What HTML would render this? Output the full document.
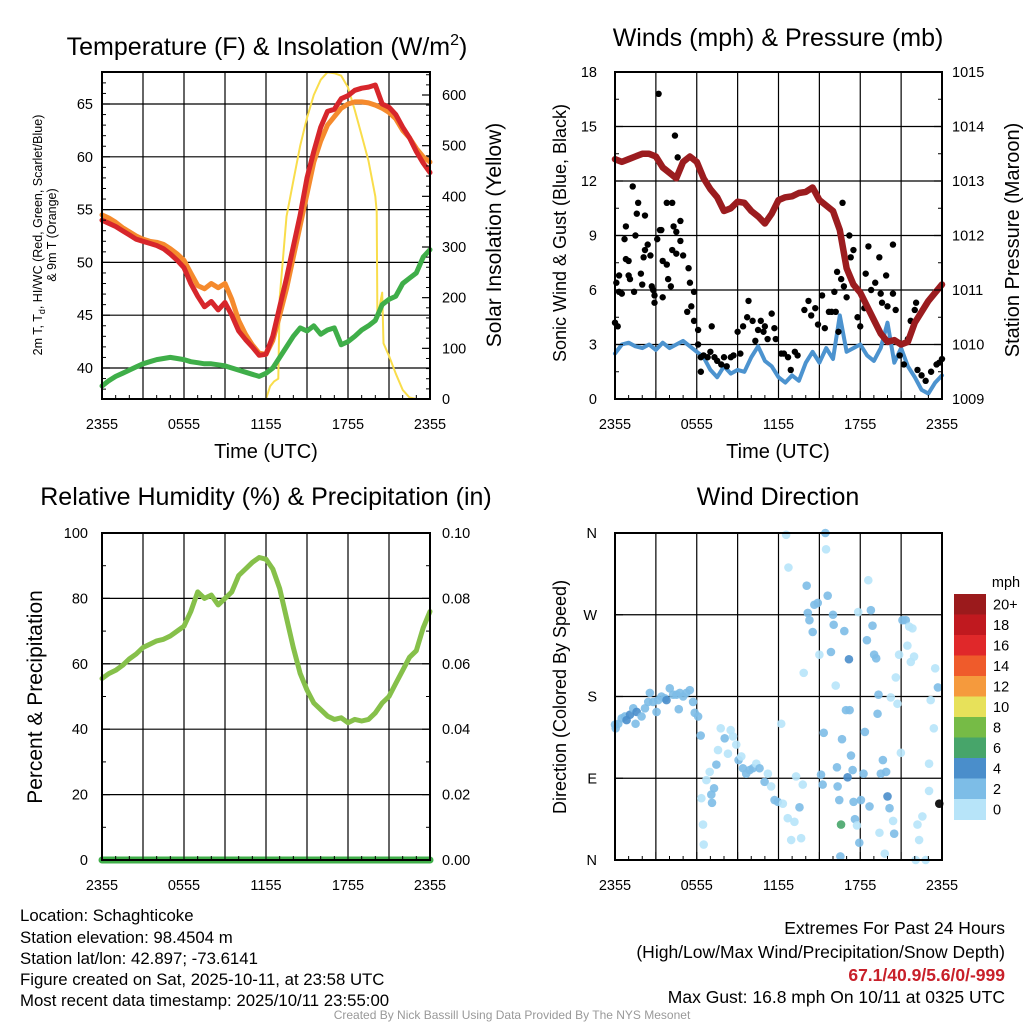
<!DOCTYPE html>
<html><head><meta charset="utf-8"><style>
body{margin:0;background:#fff}
svg{display:block}
text{font-family:"Liberation Sans",sans-serif;fill:#000}
</style></head><body>
<svg id="s" width="1024" height="1024" viewBox="0 0 1024 1024" xmlns="http://www.w3.org/2000/svg">
<g id="g1"></g>
<g id="g2"></g>
<g id="g3"></g>
<g id="g4"></g>
<text x="267" y="55" font-size="25" text-anchor="middle">Temperature (F) &amp; Insolation (W/m<tspan dy="-10" font-size="16">2</tspan><tspan dy="10">)</tspan></text>
<text x="778" y="46" font-size="25" text-anchor="middle">Winds (mph) &amp; Pressure (mb)</text>
<text x="266" y="505" font-size="25" text-anchor="middle">Relative Humidity (%) &amp; Precipitation (in)</text>
<text x="778" y="505" font-size="25" text-anchor="middle">Wind Direction</text>
<g font-size="20" text-anchor="middle">
<text x="266" y="458">Time (UTC)</text>
<text x="778" y="458">Time (UTC)</text>
</g>
<text transform="translate(42,235) rotate(-90)" font-size="12.5" text-anchor="middle">2m T, T<tspan font-size="9" dy="3">d</tspan><tspan dy="-3">, HI/WC (Red, Green, Scarlet/Blue)</tspan></text>
<text transform="translate(56,235) rotate(-90)" font-size="12.5" text-anchor="middle">&amp; 9m T (Orange)</text>
<text transform="translate(501,235) rotate(-90)" font-size="21" text-anchor="middle">Solar Insolation (Yellow)</text>
<text transform="translate(566,233) rotate(-90)" font-size="18" text-anchor="middle">Sonic Wind &amp; Gust (Blue, Black)</text>
<text transform="translate(1019,240) rotate(-90)" font-size="20" text-anchor="middle">Station Pressure (Maroon)</text>
<text transform="translate(42,697) rotate(-90)" font-size="21" text-anchor="middle">Percent &amp; Precipitation</text>
<text transform="translate(566,697) rotate(-90)" font-size="18" text-anchor="middle">Direction (Colored By Speed)</text>
<g font-size="16.8">
<text x="20" y="921">Location: Schaghticoke</text>
<text x="20" y="943">Station elevation: 98.4504 m</text>
<text x="20" y="964">Station lat/lon: 42.897; -73.6141</text>
<text x="20" y="985">Figure created on Sat, 2025-10-11, at 23:58 UTC</text>
<text x="20" y="1006">Most recent data timestamp: 2025/10/11 23:55:00</text>
</g>
<g font-size="17.5" text-anchor="end">
<text x="1005" y="934">Extremes For Past 24 Hours</text>
<text x="1005" y="958">(High/Low/Max Wind/Precipitation/Snow Depth)</text>
<text x="1005" y="981" style="fill:#c8202a;font-weight:bold">67.1/40.9/5.6/0/-999</text>
<text x="1005" y="1003">Max Gust: 16.8 mph On 10/11 at 0325 UTC</text>
</g>
<text x="512" y="1019" font-size="12" text-anchor="middle" style="fill:#999">Created By Nick Bassill Using Data Provided By The NYS Mesonet</text>
</svg>
<script>
// ---- data ----
const timeLabels=["2355","0555","1155","1755","2355"];
const tempRed=[54.0,53.7,53.4,53.0,52.6,52.2,52.0,51.8,51.6,51.3,50.8,50.2,49.5,48.0,46.8,45.8,46.3,45.5,46.2,45.0,43.5,42.7,42.0,41.2,41.3,43.0,45.8,48.5,51.5,54.5,58.0,60.5,62.8,64.3,64.5,65.5,65.8,66.3,66.5,66.6,66.8,65.0,64.7,64.0,62.8,61.8,60.5,59.4,58.5];
const temp9m=[54.5,54.2,53.8,53.3,52.9,52.5,52.2,52.0,51.9,51.7,51.3,50.8,50.2,49.0,47.8,47.5,48.0,47.6,48.0,46.5,44.5,43.2,42.2,41.4,41.3,42.6,45.0,47.5,50.5,53.5,56.5,59.5,61.5,63.0,63.8,64.6,65.0,65.2,65.2,65.1,64.9,64.6,64.2,63.6,62.5,61.8,60.8,60.0,59.5];
const dewGreen=[38.3,38.8,39.2,39.5,39.8,40.1,40.4,40.6,40.8,40.9,41.0,40.9,40.8,40.6,40.5,40.4,40.4,40.3,40.2,40.0,39.8,39.6,39.4,39.2,39.5,40.0,41.0,42.0,43.0,43.8,43.5,44.0,43.2,43.6,43.8,42.2,42.5,43.0,43.6,44.0,44.5,46.0,46.5,46.8,48.0,48.5,49.0,50.5,51.2];
const solarHours=[0,12,12.3,12.6,12.9,13,13.5,14,14.5,15,15.5,16,16.5,17,17.5,18,18.5,19,19.5,20,20.1,20.15,20.5,20.6,21,21.5,22,22.5,23,24];
const solarVals=[0,0,25,35,40,200,360,430,500,555,600,630,645,643,638,615,570,520,470,400,370,160,210,110,85,50,18,3,0,0];
const windSpeed=[2.5,3.0,3.1,2.9,2.8,3.0,2.7,3.1,2.8,3.0,3.2,2.9,2.6,2.3,1.6,1.2,1.8,1.4,1.6,1.5,2.3,2.9,2.1,1.8,1.2,0.9,1.3,1.0,2.0,2.6,2.0,2.8,2.2,4.6,2.6,2.8,3.0,2.4,2.1,2.8,4.2,2.0,2.8,1.8,1.2,0.5,0.3,0.9,1.3];
const pressure=[1013.4,1013.35,1013.4,1013.45,1013.5,1013.5,1013.45,1013.25,1013.15,1013.05,1013.35,1013.45,1013.35,1013.05,1012.85,1012.7,1012.45,1012.5,1012.62,1012.6,1012.45,1012.35,1012.22,1012.4,1012.65,1012.7,1012.72,1012.78,1012.8,1012.88,1012.65,1012.55,1012.45,1012.1,1011.4,1011.1,1010.95,1010.7,1010.45,1010.2,1010.05,1010.08,1010.0,1010.05,1010.4,1010.6,1010.8,1010.95,1011.1];
const gustHours=[0,0.2,0.1,0.3,0.5,0.3,0.7,0.8,0.8,1.0,1.0,1.1,1.3,1.4,1.5,1.6,1.7,1.9,2.0,2.1,2.2,2.2,2.4,2.6,2.7,2.8,2.9,2.9,3.1,3.2,3.3,3.4,3.5,3.5,3.8,3.8,3.9,4.1,4.2,4.2,4.3,4.4,4.5,4.5,4.6,4.8,4.8,5.0,5.4,5.5,5.6,5.8,5.3,5.8,6.1,6.1,6.3,6.3,6.5,6.8,7.0,7.1,7.3,7.5,7.8,8.0,8.2,8.5,8.7,9.0,9.2,9.4,9.7,9.8,10.1,10.3,10.5,10.7,10.9,11.0,11.2,11.5,11.7,11.8,12.2,12.4,12.7,12.9,13.2,13.4,13.9,14.2,14.4,14.7,14.9,15.2,15.4,15.7,15.9,16.1,16.2,16.3,16.4,16.6,16.7,16.8,17.0,17.2,17.3,17.5,17.8,18.0,18.3,18.4,18.6,18.8,19.1,19.4,19.5,19.6,19.9,20.0,20.4,20.4,20.6,20.9,21.2,21.5,21.7,22.0,22.1,22.2,22.5,22.8,23.2,23.6,23.8,24.0];
const gustVals=[4.2,4.0,6.4,5.9,5.8,6.8,8.8,9.5,7.7,7.6,6.8,6.6,11.7,5.9,9.0,10.2,10.8,6.9,6.3,7.8,10.1,8.2,8.5,7.9,6.2,6.0,5.7,5.3,8.8,16.8,9.3,9.3,5.6,7.6,10.8,7.4,6.6,6.2,8.2,10.8,9.5,14.5,9.2,8.0,13.3,9.8,8.7,7.9,7.2,6.4,5.1,5.9,4.8,4.3,3.8,3.0,2.3,1.5,2.4,2.3,2.6,4.0,2.3,2.1,1.9,2.3,1.8,2.3,2.4,3.7,2.5,4.0,4.5,5.4,4.3,3.2,3.8,4.3,3.7,4.0,3.3,4.7,3.9,3.3,2.5,2.5,2.3,1.6,2.6,2.4,4.9,5.4,4.6,5.0,4.1,5.7,3.9,4.8,4.8,5.9,4.8,7.0,3.7,6.6,10.8,6.2,5.6,9.0,7.8,8.2,4.5,4.0,5.0,6.9,8.4,6.0,6.4,7.8,5.8,5.3,6.8,5.1,8.5,5.8,4.9,2.4,1.9,3.3,4.3,4.9,5.3,1.6,1.3,1.0,1.5,1.9,2.0,2.2];
const rh=[55.5,57,58,59.5,61.5,63,65,66,67,67.5,68.5,70,71.5,76,82,80,81,78,80,82,87,89,91,92.5,92,89,83,74,65,57,52,48,46,44,43,43.5,42,43,42.5,43,45,48,50,54,58,62,64,71,76];
const precip=[0,0,0,0,0,0,0,0,0,0,0,0,0,0,0,0,0,0,0,0,0,0,0,0,0,0,0,0,0,0,0,0,0,0,0,0,0,0,0,0,0,0,0,0,0,0,0,0,0];
const dirHours=[0,0.05,0.24,0.49,0.73,0.85,1.10,1.34,1.51,1.59,1.95,2.20,2.44,2.56,2.80,3.05,3.17,3.41,3.66,3.78,4.02,4.27,4.51,4.76,4.68,5.00,5.24,5.49,5.73,5.85,6.10,6.29,6.34,6.46,6.51,6.71,6.95,7.07,7.12,7.27,7.44,7.56,7.76,8.05,8.29,8.49,8.66,8.90,9.07,9.27,9.39,9.63,9.88,10.12,10.37,10.61,10.98,11.22,11.46,11.71,11.95,12.20,12.32,12.56,12.73,12.68,12.93,13.17,13.29,13.54,13.66,13.78,13.85,14.07,14.15,14.27,14.51,14.63,14.88,15.00,15.12,15.24,15.32,15.44,15.49,15.61,15.85,16.00,16.05,16.20,16.29,16.34,16.46,16.54,16.59,16.66,16.83,16.95,17.07,17.17,17.22,17.32,17.44,17.51,17.61,17.76,17.85,17.93,18.05,18.24,18.34,18.49,18.59,18.68,18.78,18.90,19.02,19.17,19.27,19.34,19.41,19.51,19.66,19.80,19.90,20.00,20.15,20.24,20.41,20.49,20.61,20.73,20.85,20.98,21.10,21.34,21.46,21.59,21.71,21.83,21.95,22.07,22.20,22.32,22.56,22.80,23.05,23.05,23.17,23.4,23.5,23.7,23.8];
const dirDeg=[149,145,150,156,158,154,160,167,150,163,158,167,174,184,174,163,176,180,178,176,189,182,182,184,166,180,184,187,174,162,158,137,68,39,17,88,97,72,63,79,105,121,145,134,117,143,136,127,110,114,101,95,99,101,106,101,86,95,81,66,64,150,62,358,322,46,22,42,92,58,24,83,206,302,272,264,251,281,283,226,94,83,140,360,342,291,229,270,259,192,102,81,66,4,39,133,252,165,91,221,165,115,99,64,45,38,273,19,66,95,141,242,308,59,275,258,226,222,161,182,30,95,110,7,97,70,57,179,43,29,201,172,226,118,264,264,236,257,218,255,224,0,39,22,48,0,106,76,176,145,211,190,62];
const dirSpeed=[2,2,2,2,3,4,4,2,2,4,2,2,2,2,2,2,2,2,3,4,2,2,2,3,2,2,2,2,2,2,2,2,0,0,0,0,0,2,2,2,2,0,0,2,0,0,0,0,2,0,2,2,2,2,0,2,2,0,0,2,2,0,0,0,0,0,0,0,0,2,0,0,0,2,2,3,2,2,2,0,2,2,2,2,0,2,2,2,3,0,2,2,2,2,6,2,2,2,4,4,2,2,2,2,2,0,0,2,2,2,2,2,0,2,2,2,2,2,2,2,0,2,2,0,2,4,2,0,0,2,0,0,0,0,2,2,0,0,0,0,0,0,0,0,0,0,0,0,0,0,0,2];
const cbLabels=["20+","18","16","14","12","10","8","6","4","2","0"];
const cbColors=["#9b1a1c","#c0191f","#e0282a","#ef5b2b","#f59a3d","#e7e15a","#76bb46","#47a56a","#4a8ecb","#7dbde7","#b7e4f9"];

const NS="http://www.w3.org/2000/svg";
function mk(parent,tag,attrs){const e=document.createElementNS(NS,tag);for(const k in attrs)e.setAttribute(k,attrs[k]);parent.appendChild(e);return e;}
function lin(d0,d1,r0,r1){return v=>r0+(v-d0)/(d1-d0)*(r1-r0);}
function halfHours(n){const a=[];for(let i=0;i<n;i++)a.push(i*0.5);return a;}
function poly(g,xs,ys,X,Y,color,w,name){
  const pts=xs.map((h,i)=>X(h).toFixed(1)+","+Y(ys[i]).toFixed(1)).join(" ");
  const p=mk(g,"polyline",{points:pts,fill:"none",stroke:color,"stroke-width":w,"stroke-linejoin":"round","stroke-linecap":"round"});
  
  
  return p;
}
function frame(g,L,R,T,B,X,hTicks,hLab,yFn){
  for(let h=0;h<=24;h+=3){const x=X(h);const l=mk(g,"line",{x1:x,x2:x,y1:T,y2:B,stroke:"#000","stroke-width":1.2});
    }
  hTicks.forEach((v,i)=>{const y=yFn(v);const l=mk(g,"line",{x1:L,x2:R,y1:y,y2:y,stroke:"#000","stroke-width":1.2});
    });
  timeLabels.forEach((t,i)=>{const tx=mk(g,"text",{x:X(i*6),y:B+30,"font-size":14.5,"text-anchor":"middle"});tx.textContent=t;
    });
}
function box(g,L,R,T,B){const r=mk(g,"rect",{x:L,y:T,width:R-L,height:B-T,fill:"none",stroke:"#000","stroke-width":2});
  }
function yLabels(g,vals,labs,yFn,x,anchor,minor,tickX,dir){
  vals.forEach((v,i)=>{const t=mk(g,"text",{x:x,y:yFn(v)+5,"font-size":14.5,"text-anchor":anchor});t.textContent=labs[i];
    
    const l=mk(g,"line",{x1:tickX,x2:tickX+dir*8,y1:yFn(v),y2:yFn(v),stroke:"#000","stroke-width":1.2});
    });
  minor.forEach(v=>{const l=mk(g,"line",{x1:tickX,x2:tickX+dir*4,y1:yFn(v),y2:yFn(v),stroke:"#000","stroke-width":1});
    });
}
function xMinor(g,X,B){for(let h=0;h<=24;h+=1){const l=mk(g,"line",{x1:X(h),x2:X(h),y1:B,y2:B-(h%3?4:8),stroke:"#000","stroke-width":1});
  }}

// Panel 1
(function(){
  const g=document.getElementById("g1");const L=102,R=430,T=72,B=399;
  const X=lin(0,24,L,R),Y=lin(40,65,368,104),Ys=lin(0,600,399,95);
  const t=[40,45,50,55,60,65];
  frame(g,L,R,T,B,X,t,timeLabels,Y);
  const hh=halfHours(49);
  poly(g,solarHours,solarVals,X,Ys,"#f9dd4b",2,"solar-line");
  poly(g,hh,dewGreen,X,Y,"#3fae49",5,"dewpoint-line");
  poly(g,hh,temp9m,X,Y,"#f58a2d",5,"temp-9m-line");
  poly(g,hh,tempRed,X,Y,"#d7262b",5,"temp-2m-line");
  box(g,L,R,T,B);xMinor(g,X,B);
  yLabels(g,t,t.map(String),Y,L-9,"end",[41,42,43,44,46,47,48,49,51,52,53,54,56,57,58,59,61,62,63,64,66,67,38,39],L,1);
  const sv=[0,100,200,300,400,500,600];const sm=[];for(let v=20;v<=640;v+=20)if(v%100)sm.push(v);
  yLabels(g,sv,sv.map(String),Ys,R+12,"start",sm,R,-1);
})();
// Panel 2
(function(){
  const g=document.getElementById("g2");const L=615,R=942,T=72,B=399;
  const X=lin(0,24,L,R),Y=lin(0,18,399,72),Yp=lin(1009,1015,399,72);
  const t=[0,3,6,9,12,15,18];
  frame(g,L,R,T,B,X,t,timeLabels,Y);
  const hh=halfHours(49);
  poly(g,hh,windSpeed,X,Y,"#4c93cf",4,"sonic-wind-line");
  gustHours.forEach((h,i)=>{const c=mk(g,"circle",{cx:X(h),cy:Y(gustVals[i]),r:3.2,fill:"#000"});
    });
  poly(g,hh,pressure,X,Yp,"#9b1c1f",6.5,"pressure-line");
  box(g,L,R,T,B);xMinor(g,X,B);
  yLabels(g,t,t.map(String),Y,L-18,"end",[1.5,4.5,7.5,10.5,13.5,16.5],L,1);
  const pv=[1009,1010,1011,1012,1013,1014,1015];
  yLabels(g,pv,pv.map(String),Yp,R+10,"start",[1009.5,1010.5,1011.5,1012.5,1013.5,1014.5],R,-1);
})();
// Panel 3
(function(){
  const g=document.getElementById("g3");const L=102,R=430,T=533,B=860;
  const X=lin(0,24,L,R),Y=lin(0,100,860,533),Yp=lin(0,0.1,860,533);
  const t=[0,20,40,60,80,100];
  frame(g,L,R,T,B,X,t,timeLabels,Y);
  const hh=halfHours(49);
  poly(g,hh,rh,X,Y,"#86c04a",5,"rh-line");
  poly(g,hh,precip,X,Yp,"#3fae49",7,"precip-line");
  box(g,L,R,T,B);xMinor(g,X,B);
  yLabels(g,t,t.map(String),Y,L-14,"end",[10,30,50,70,90],L,1);
  const pv=[0,0.02,0.04,0.06,0.08,0.1];
  yLabels(g,pv,pv.map(v=>v.toFixed(2)),Yp,R+12,"start",[0.01,0.03,0.05,0.07,0.09],R,-1);
})();
// Panel 4
(function(){
  const g=document.getElementById("g4");const L=615,R=942,T=533,B=860;
  const X=lin(0,24,L,R),Y=lin(0,360,860,533);
  const t=[0,90,180,270,360];
  frame(g,L,R,T,B,X,t,timeLabels,Y);
  dirHours.forEach((h,i)=>{const idx=10-Math.min(10,Math.floor(dirSpeed[i]/2));
    const c=mk(g,"circle",{cx:X(h),cy:Y(dirDeg[i]),r:4.3,fill:cbColors[idx],"fill-opacity":0.9});
    });
  box(g,L,R,T,B);xMinor(g,X,B);
  yLabels(g,t,["N","E","S","W","N"],Y,L-18,"end",[],L,1);
  const cbT=594,cbH=20.5;
  const mt=mk(g,"text",{x:1006,y:587,"font-size":14.5,"text-anchor":"middle"});mt.textContent="mph";
  
  cbColors.forEach((c,i)=>{const r=mk(g,"rect",{x:954,y:cbT+i*cbH,width:32,height:cbH+0.5,fill:c});
    
    const tx=mk(g,"text",{x:993,y:cbT+i*cbH+cbH/2+5,"font-size":14.5});tx.textContent=cbLabels[i];
    });
})();
</script>
</body></html>
